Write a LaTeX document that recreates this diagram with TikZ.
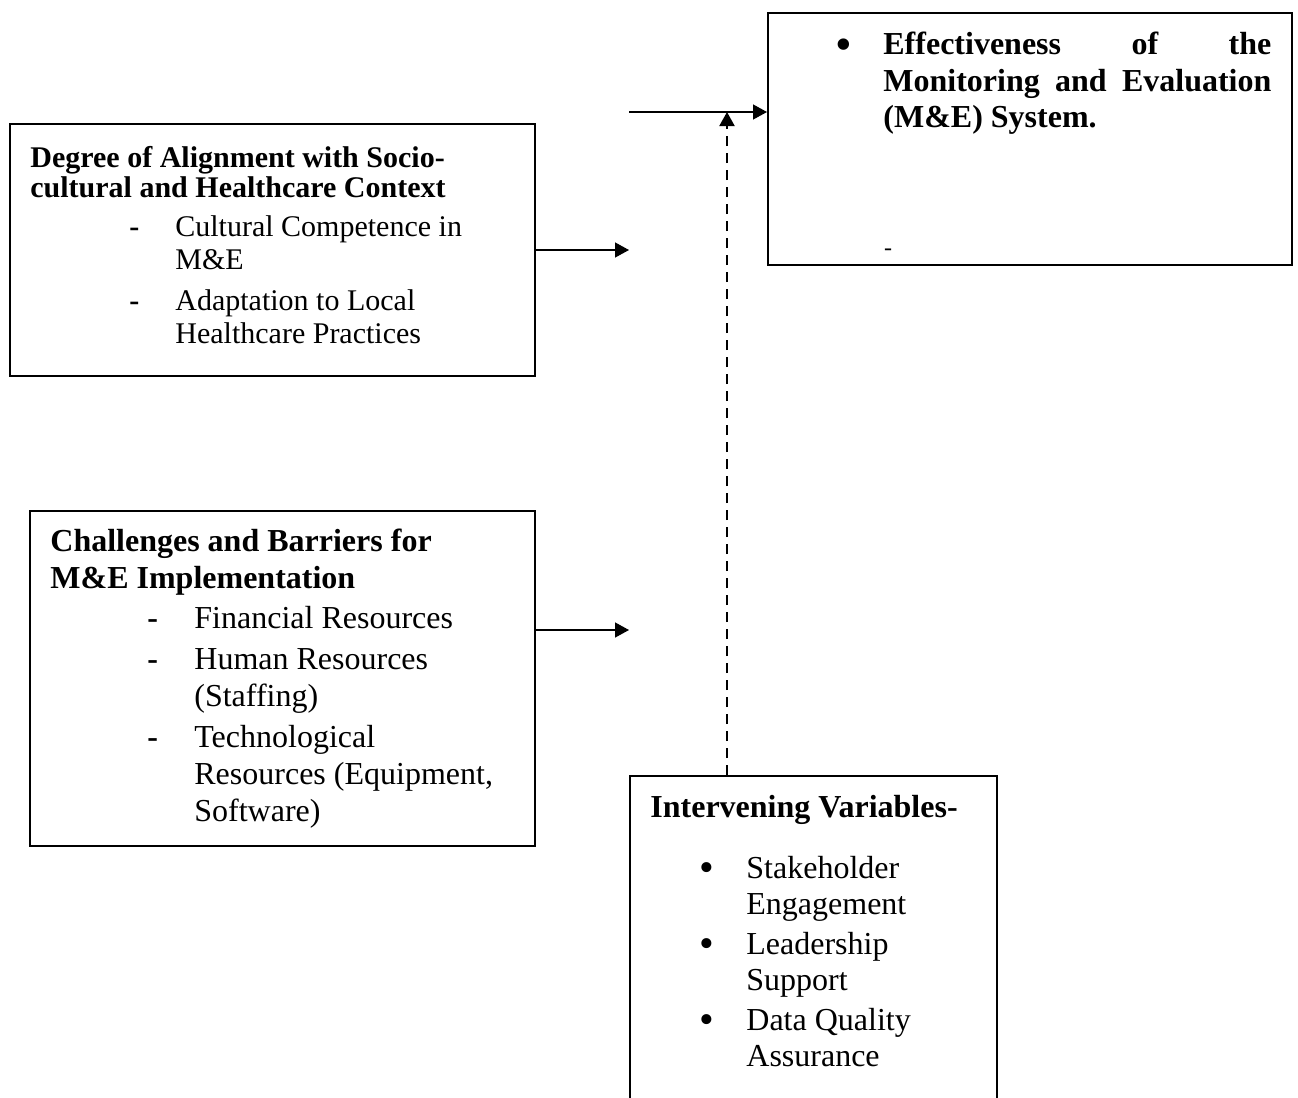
\documentclass[tikz,border=0pt]{standalone}
\usepackage{fontspec}
\setmainfont{Liberation Serif}
\usepackage{tikz}
\usetikzlibrary{arrows.meta,positioning}

\newcommand{\bigdot}{\raisebox{-1.6pt}{\fontsize{21}{18}\selectfont\textbullet}}

\begin{document}
\begin{tikzpicture}[
    x=0.5pt, y=-0.5pt,
    varbox/.style={rectangle, draw, line width=1pt, inner sep=0pt, anchor=north west},
    notes/.style={inner sep=0pt, anchor=north west, align=left},
    link/.style={-{Triangle[length=7pt,width=7.5pt]}, line width=0.7pt},
    modlink/.style={link, line width=1pt, dash pattern=on 5pt off 3.5pt}
]
    \clip (0,0) rectangle (1298,1098);

    % dependent variable
    \node[varbox, minimum width=262pt, minimum height=126pt] (effect) at (767,12) {};
    \node[notes, font=\bfseries\fontsize{16}{18.25}\selectfont] (effecttext) at (836,29)
        {\begin{tabular}{@{}p{23.5pt}@{}l@{}}
         \bigdot & \makebox[194pt][s]{Effectiveness of the}\\
         & \makebox[194pt][s]{Monitoring and Evaluation}\\
         & (M\&E) System.
         \end{tabular}};
    \node[inner sep=0pt, font=\fontsize{12}{12}\selectfont] (effectdash) at (888,252) {-};

    % independent variables
    \node[varbox, minimum width=262.5pt, minimum height=126pt] (align) at (9,123) {};
    \node[notes, font=\bfseries\fontsize{15}{14.5}\selectfont] (alignhead) at (30,146)
        {\begin{tabular}{@{}l@{}}
         Degree of Alignment with Socio-\\
         cultural and Healthcare Context
         \end{tabular}};
    \node[notes, font=\fontsize{15}{16.5}\selectfont] (alignlist) at (129,213)
        {\begin{tabular}{@{}p{23pt}@{}l@{}}
         \textbf{-} & Cultural Competence in\\
         & M\&E\\[4pt]
         \textbf{-} & Adaptation to Local\\
         & Healthcare Practices
         \end{tabular}};

    \node[varbox, minimum width=252.5pt, minimum height=167.5pt] (barrier) at (29,510) {};
    \node[notes, font=\bfseries\fontsize{16}{18.5}\selectfont] (barrierhead) at (50,525)
        {\begin{tabular}{@{}l@{}}
         Challenges and Barriers for\\
         M\&E Implementation
         \end{tabular}};
    \node[notes, font=\fontsize{16}{18.5}\selectfont] (barrierlist) at (147,602)
        {\begin{tabular}{@{}p{23.5pt}@{}l@{}}
         \textbf{-} & Financial Resources\\[2pt]
         \textbf{-} & Human Resources\\
         & (Staffing)\\[2pt]
         \textbf{-} & Technological\\
         & Resources (Equipment,\\
         & Software)
         \end{tabular}};

    % intervening variables
    \node[varbox, minimum width=183.5pt, minimum height=167.5pt] (interv) at (629,775) {};
    \node[notes, font=\bfseries\fontsize{16}{18.25}\selectfont] (intervhead) at (650,795)
        {Intervening Variables-};
    \node[notes, font=\fontsize{16}{18}\selectfont] (intervlist) at (699,853)
        {\begin{tabular}{@{}p{23.5pt}@{}l@{}}
         \bigdot & Stakeholder\\
         & Engagement\\[2pt]
         \bigdot & Leadership\\
         & Support\\[2pt]
         \bigdot & Data Quality\\
         & Assurance
         \end{tabular}};

    % connectors
    \coordinate (feed) at (629,112);
    \coordinate (inA) at (629,250);
    \coordinate (inB) at (629,630);
    \coordinate (mod) at (727,112);
    \draw[link] (feed) -- (effect.west |- feed);
    \draw[link] (align.east |- inA) -- (inA);
    \draw[link] (barrier.east |- inB) -- (inB);
    \draw[modlink] (interv.north -| mod) -- (mod);
\end{tikzpicture}
\end{document}
